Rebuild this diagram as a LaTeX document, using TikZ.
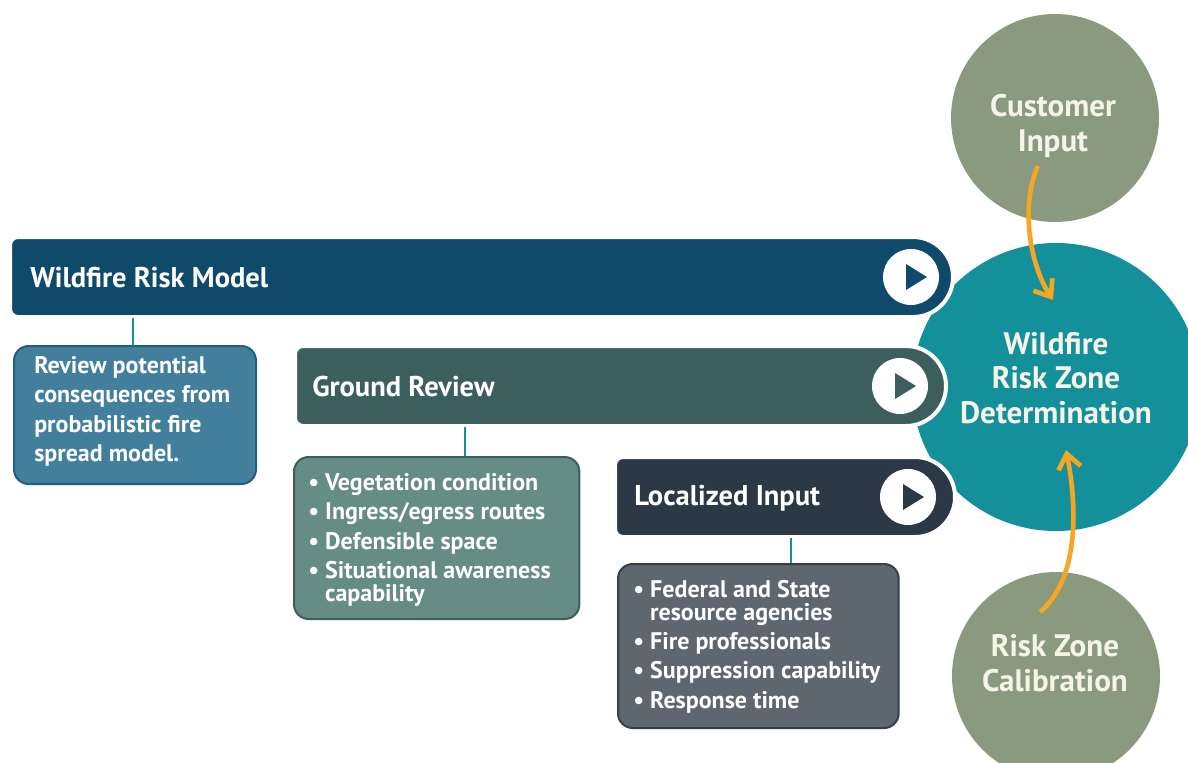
\documentclass[tikz,border=0pt]{standalone}
\usepackage{fontspec}
\setmainfont{PT Sans}
\usetikzlibrary{arrows.meta}
\definecolor{cblue}{HTML}{104A6B}
\definecolor{cground}{HTML}{3C5F5D}
\definecolor{cloc}{HTML}{2C3845}
\definecolor{cteal}{HTML}{14909A}
\definecolor{csage}{HTML}{8A9A7E}
\definecolor{cbox1}{HTML}{427F9D}
\definecolor{cbox1b}{HTML}{245E7E}
\definecolor{cbox2}{HTML}{668C86}
\definecolor{cbox2b}{HTML}{3C5F5D}
\definecolor{cbox3}{HTML}{5E666F}
\definecolor{cbox3b}{HTML}{363F49}
\definecolor{corange}{HTML}{F5A623}
\definecolor{ctext}{HTML}{F6F3E8}
\tikzset{
  bigtxt/.style={text=ctext, font=\bfseries\fontsize{23.3}{26}\selectfont, align=center},
  titletxt/.style={text=white, font=\bfseries\fontsize{21.4}{24}\selectfont, anchor=west, inner sep=0},
  descbox/.style={rounded corners=11, line width=1.5, anchor=north west, inner sep=0},
  desctxt/.style={anchor=north west, text=white, font=\bfseries\fontsize{18}{22}\selectfont, align=left, inner sep=0},
  linkline/.style={draw=cteal, line width=2.2},
  orangearrow/.style={draw=corange, line width=3.5, -{Straight Barb[length=11pt,width=17pt,line width=3.5]}},
  playcirc/.style={circle, fill=white, minimum size=42pt, inner sep=0},
}
\newcommand{\mybar}[4]{% L T R colour
  \fill[#4, draw=white, line width=3] (#1+8,#2) -- (#3-40,#2) arc[start angle=-90,end angle=90,radius=40]
     -- (#1+8,#2+80) arc[start angle=90,end angle=180,radius=8] -- (#1,#2+8)
     arc[start angle=180,end angle=270,radius=8] -- cycle;
}
\newcommand{\playtri}[3]{% cx cy colour
  \fill[#3] (#1-7,#2-13) -- (#1-7,#2+13) -- (#1+14,#2) -- cycle;
}
\begin{document}
\begin{tikzpicture}[x=0.75pt,y=-0.75pt]
\useasboundingbox (0,0) rectangle (1188,763);
\fill[white] (0,0) rectangle (1188,763);
% circles
\node[circle, fill=csage, minimum size=156pt, inner sep=0] (cust) at (1055,118) {};
\node[bigtxt] (custt) at (1053,126) {Customer\\Input};
\node[circle, fill=csage, minimum size=156pt, inner sep=0] (calib) at (1056,676) {};
\node[bigtxt] (calibt) at (1055,663) {Risk Zone\\Calibration};
\node[circle, fill=cteal, minimum size=216pt, inner sep=0] (zone) at (1056,387) {};
\node[bigtxt] (zonet) at (1056,378) {Wildfire\\Risk Zone\\Determination};
% bars
\mybar{10}{237}{953}{cblue}
\mybar{295}{346}{946}{cground}
\mybar{615}{457}{955}{cloc}
\node[playcirc] (p1) at (911,277) {};
\playtri{913}{277}{cblue}
\node[playcirc] (p2) at (900,386) {};
\playtri{902}{386}{cground}
\node[playcirc] (p3) at (908,497) {};
\playtri{910}{497}{cloc}
\node[titletxt] (t1) at (30,278) {Wildfire Risk Model};
\node[titletxt] (t2) at (312,387) {Ground Review};
\node[titletxt] (t3) at (634,498) {Localized Input};
% description boxes
\node[descbox, fill=cbox1, draw=cbox1b, minimum width=181.5pt, minimum height=103.5pt] (b1) at (13,345) {};
\node[desctxt] (b1t) at (34,356)
 {Review potential\\consequences from\\probabilistic fire\\spread model.};
\node[descbox, fill=cbox2, draw=cbox2b, minimum width=214pt, minimum height=121.5pt] (b2) at (293,456) {};
\node[desctxt] (b2t) at (308,473)
 {• Vegetation condition\\• Ingress/egress routes\\• Defensible space\\• Situational awareness\\[-5pt]\phantom{• }capability};
\node[descbox, fill=cbox3, draw=cbox3b, minimum width=210.5pt, minimum height=123pt] (b3) at (617,563) {};
\node[desctxt] (b3t) at (633,580)
 {• Federal and State\\[-5pt]\phantom{• }resource agencies\\• Fire professionals\\• Suppression capability\\• Response time};
% connectors
\coordinate (c1) at (133,318);
\coordinate (c2) at (465,427);
\coordinate (c3) at (791,538);
\draw[linkline] (c1) -- (c1 |- b1.north);
\draw[linkline] (c2) -- (c2 |- b2.north);
\draw[linkline] (c3) -- (c3 |- b3.north);
% orange arrows
\coordinate (a1s) at (1038,166);
\coordinate (a1e) at (1053,300);
\coordinate (a2s) at (1040,612);
\coordinate (a2e) at (1066,450);
\draw[orangearrow] (a1s) .. controls (1020,205) and (1030,265) .. (a1e);
\draw[orangearrow] (a2s) .. controls (1078,580) and (1078,510) .. (a2e);
\end{tikzpicture}
\end{document}
